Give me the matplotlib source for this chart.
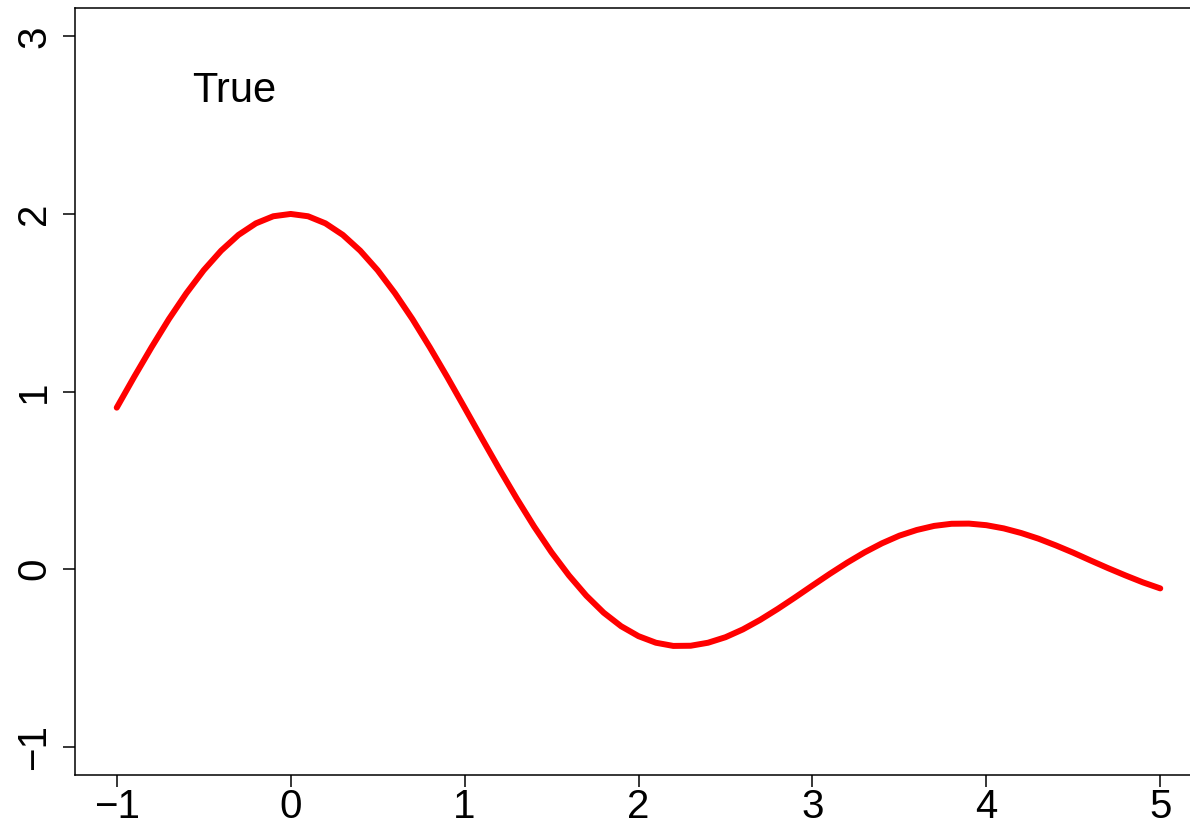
import matplotlib.pyplot as plt
import numpy as np

plt.rcParams['font.family'] = ['Liberation Sans', 'DejaVu Sans']

# curve values read at x = -1, -0.9, ..., 5
x = np.round(np.arange(-1.0, 5.0001, 0.1), 2)
y = [0.909, 1.082, 1.249, 1.408, 1.553, 1.683, 1.793, 1.882, 1.947, 1.987,
     2.000,
     1.987, 1.947, 1.882, 1.793, 1.683, 1.553, 1.408, 1.249, 1.082, 0.909,
     0.735, 0.563, 0.397, 0.239, 0.094, -0.036, -0.150, -0.246, -0.322, -0.378,
     -0.415, -0.433, -0.432, -0.415, -0.384, -0.340, -0.286, -0.225, -0.160, -0.093,
     -0.027, 0.036, 0.094, 0.145, 0.188, 0.220, 0.243, 0.255, 0.256, 0.247,
     0.229, 0.203, 0.171, 0.133, 0.092, 0.048, 0.005, -0.036, -0.075, -0.109]

xticks = [-1, 0, 1, 2, 3, 4, 5]
yticks = [-1, 0, 1, 2, 3]

fig = plt.figure(figsize=(11.9, 8.23), dpi=100)
# axes run past the right edge of the figure
ax = fig.add_axes([75 / 1190, 48 / 823, 1127 / 1190, 767 / 823])

ax.plot(x, y, color='red', lw=4.3, solid_capstyle='round', solid_joinstyle='round')
ax.text(-0.565, 2.63, 'True', fontsize=30, ha='left', va='baseline')

ax.set_xlim(-1.24, 5.24)
ax.set_ylim(-1.16, 3.16)
ax.set_xticks(xticks)
ax.set_yticks(yticks)
ax.set_xticklabels(['\u22121', '0', '1', '2', '3', '4', '5'])
ax.set_yticklabels(['\u22121', '0', '1', '2', '3'], rotation=90, va='center')
ax.tick_params(length=8.6, width=1.1, labelsize=29, colors='black')
ax.tick_params(axis='x', pad=1)
ax.tick_params(axis='y', pad=7)
for s in ax.spines.values():
    s.set_linewidth(1.1)

fig.savefig('out.png', dpi=100)
